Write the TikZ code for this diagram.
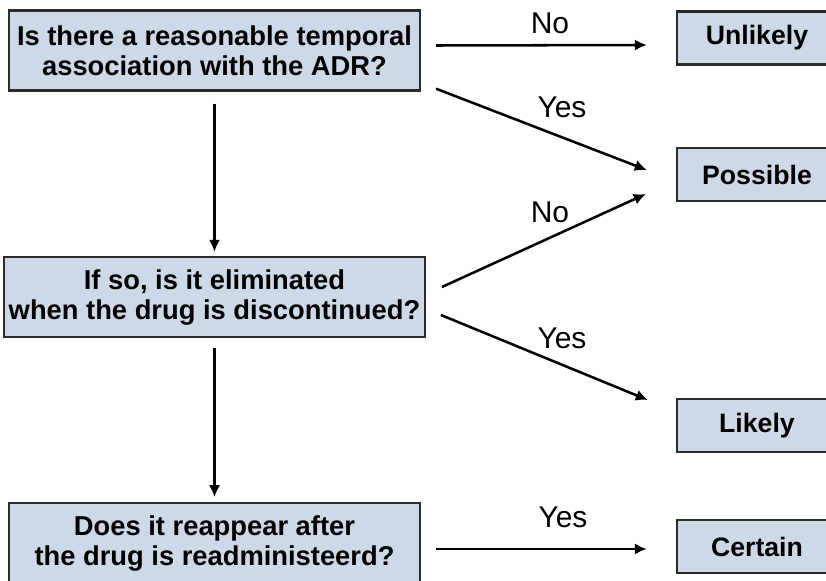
\documentclass[tikz,border=0pt]{standalone}
\usepackage{xcolor}
\usepackage{fontspec}
\setmainfont{Liberation Sans}
\usepackage{tikz}
\usetikzlibrary{arrows.meta}
\definecolor{colorBox}{HTML}{CED9E8}
\definecolor{colorEdge}{HTML}{2B2B2B}

\begin{document}
\begin{tikzpicture}[x=0.75pt,y=-0.75pt,
        question/.style={draw=colorEdge,fill=colorBox,line width=1.8pt,minimum width=308pt,minimum height=60pt,align=center,font=\fontsize{20.5}{22.5}\selectfont\bfseries},
        verdict/.style={draw=colorEdge,fill=colorBox,line width=1.8pt,minimum width=120pt,minimum height=40pt,font=\fontsize{20}{22}\selectfont\bfseries},
        answer/.style={font=\fontsize{22.5}{24}\selectfont},
        arrow/.style={-{Latex[length=9pt,width=8.5pt]},line width=1.9pt}]
        \useasboundingbox (0,0) rectangle (826,581);
        \clip (0,0) rectangle (826,581);

        \node[question] (q1) at (214.5,50.5) {Is there a reasonable temporal\\association with the ADR?};
        \node[question] (q2) at (214.5,297) {If so, is it eliminated\\when the drug is discontinued?};
        \node[question] (q3) at (214.5,543) {Does it reappear after\\the drug is readministeerd?};

        \node[verdict] (unlikely) at (757,38) {Unlikely};
        \node[verdict] (possible) at (757,174.5) {Possible};
        \node[verdict] (likely) at (757,425.5) {Likely};
        \node[verdict] (certain) at (757,546.5) {Certain};

        \draw[arrow] ([shift={(15,-5)}]q1.east) -- ([shift={(-29,7)}]unlikely.west);
        \draw[arrow] ([shift={(15,-3)}]q1.south east) -- ([shift={(-29,-4.5)}]possible.west);
        \draw[arrow, shorten <=9pt, shorten >=3pt] (q1) -- (q2);
        \draw[arrow, shorten <=7.5pt, shorten >=3.5pt] (q2) -- (q3);
        \draw[arrow] ([shift={(16,-10)}]q2.east) -- ([shift={(-30,19.5)}]possible.west);
        \draw[arrow] ([shift={(15,18)}]q2.east) -- ([shift={(-28,-25.5)}]likely.west);
        \draw[arrow] ([shift={(15,6)}]q3.east) -- ([shift={(-29,2.5)}]certain.west);

        \node[answer] (no1) at (550,23) {No};
        \node[answer] (yes1) at (562,107) {Yes};
        \node[answer] (no2) at (550,212) {No};
        \node[answer] (yes2) at (562,338) {Yes};
        \node[answer] (yes3) at (563,517) {Yes};
    \end{tikzpicture}
\end{document}
